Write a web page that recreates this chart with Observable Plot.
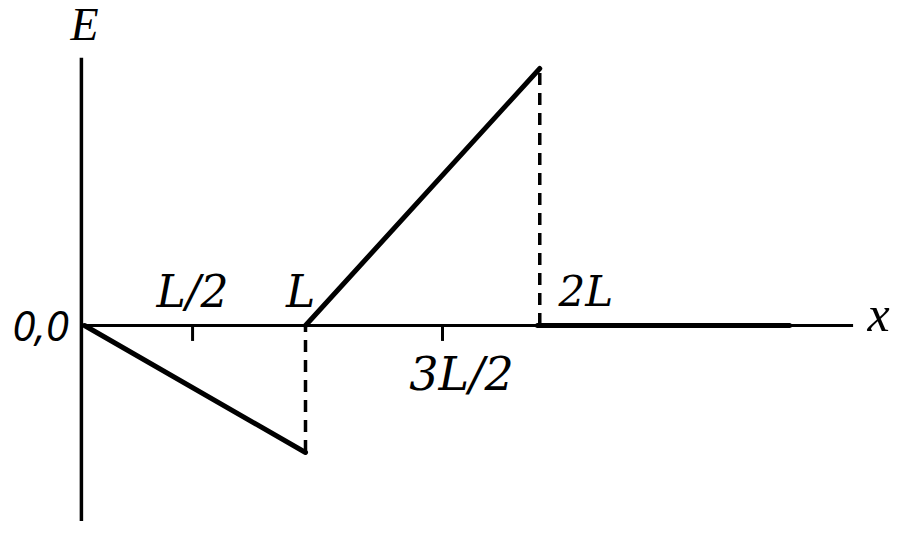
<!DOCTYPE html>
<html><head><meta charset="utf-8">
<script src="https://cdn.jsdelivr.net/npm/d3@7"></script>
<script src="https://cdn.jsdelivr.net/npm/@observablehq/plot@0.6"></script>
<style>body{margin:0;background:#fff}</style>
</head><body><div id="chart"></div>
<script>
// x in units of L, E in units of the peak value
const tickPos = [0.489, 1, 1.62, 2.06];
const tickLabels = ["L/2", "L", "3L/2", "2L"];
const negX = [0, 1];
const negE = [0, -0.494];
const posX = [1, 2.06];
const posE = [0, 1];
const zeroX = [2.05, 3.19];
const zeroE = [0, 0];

const toPts = (xs, es) => xs.map((x, i) => ({x, E: es[i]}));
const ticks = tickPos.map((x, i) => ({x, label: tickLabels[i]}));

const font = "DejaVu Serif";
const lab = (d, opts) => Plot.text([d], {x: "x", y: 0, text: "label", fontStyle: "italic", fontFamily: font, fill: "#000", ...opts});
const chart = Plot.plot({
  width: 900, height: 536, margin: 0,
  x: {domain: [-0.3801, 3.6923], axis: null},
  y: {domain: [-0.821, 1.2646], axis: null},
  style: {background: "#fff"},
  marks: [
    Plot.ruleX([-0.014], {y1: -0.763, y2: 1.04, strokeWidth: 3.5, stroke: "#000"}),
    Plot.ruleY([0], {x1: 0, x2: 3.48, strokeWidth: 3, stroke: "#000"}),
    Plot.ruleX([ticks[0].x, ticks[2].x], {y1: 0, y2: -0.062, strokeWidth: 3, stroke: "#000"}),
    Plot.ruleX([1], {y1: -0.494, y2: 0, strokeWidth: 3.5, stroke: "#000", strokeDasharray: "12,8"}),
    Plot.ruleX([2.06], {y1: 0, y2: 1, strokeWidth: 3.5, stroke: "#000", strokeDasharray: "12,8"}),
    Plot.line(toPts(negX, negE), {x: "x", y: "E", strokeWidth: 5, stroke: "#000", strokeLinecap: "round"}),
    Plot.line(toPts(posX, posE), {x: "x", y: "E", strokeWidth: 5, stroke: "#000", strokeLinecap: "round"}),
    Plot.line(toPts(zeroX, zeroE), {x: "x", y: "E", strokeWidth: 5, stroke: "#000", strokeLinecap: "round"}),
    lab(ticks[0], {dy: -33, fontSize: 44}),
    lab(ticks[1], {dx: -5, dy: -33, fontSize: 44}),
    lab(ticks[2], {dx: 19, dy: 50, fontSize: 46}),
    lab(ticks[3], {dx: 46, dy: -33, fontSize: 42}),
    Plot.text(["0,0"], {x: -0.199, y: 0, text: d => d, dy: 2, fontSize: 42, fontStyle: "italic", fontFamily: "Open Sans", fill: "#000"}),
    Plot.text(["E"], {x: 0, y: 1.187, text: d => d, dy: 5, fontSize: 46, fontStyle: "italic", fontFamily: "Liberation Serif", fill: "#000"}),
    Plot.text(["x"], {x: 3.593, y: 0, text: d => d, dy: -11, fontSize: 50, fontStyle: "italic", fontFamily: "Liberation Serif", fill: "#000"})
  ]
});
document.getElementById("chart").appendChild(chart);
</script></body></html>
